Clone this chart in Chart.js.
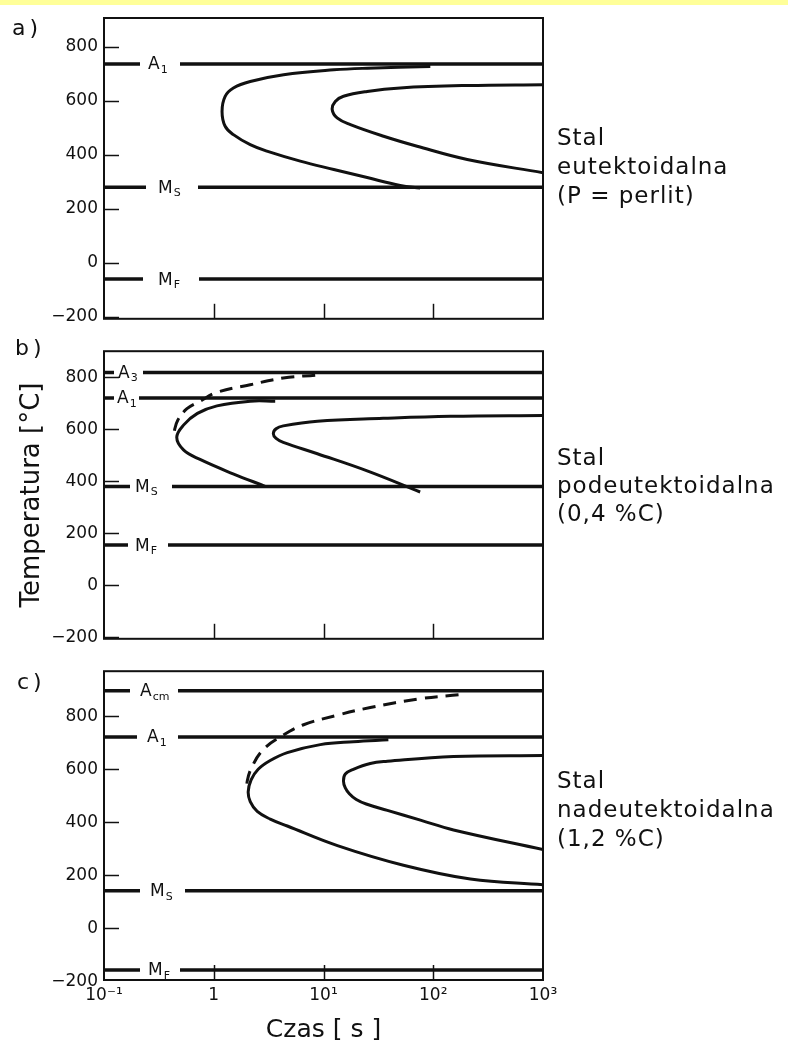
<!DOCTYPE html>
<html>
<head>
<meta charset="utf-8">
<script src="https://cdn.jsdelivr.net/npm/chart.js@4"></script>
<style>
body{margin:0;background:#fff;width:788px;height:1045px;position:relative;overflow:hidden;font-family:"DejaVu Sans",sans-serif;color:#111}
#band{position:absolute;left:0;top:0;width:788px;height:5px;background:#ffff99}
canvas{position:absolute;left:0}
.lbl{position:absolute;font-size:22px;line-height:26px;letter-spacing:4px}
.desc{position:absolute;left:557px;font-size:23px;line-height:29px;letter-spacing:1px}
</style>
</head>
<body>
<div id="band"></div>
<canvas id="chartA" width="788" height="335" style="top:0px"></canvas>
<canvas id="chartB" width="788" height="320" style="top:335px"></canvas>
<canvas id="chartC" width="788" height="390" style="top:655px"></canvas>
<div class="lbl" style="left:12px;top:15px">a)</div>
<div class="lbl" style="left:15px;top:335px">b)</div>
<div class="lbl" style="left:17px;top:669px">c)</div>
<div class="desc" style="top:123px">Stal<br>eutektoidalna<br>(P = perlit)</div>
<div class="desc" style="top:443px;line-height:28px">Stal<br>podeutektoidalna<br>(0,4 %C)</div>
<div class="desc" style="top:766px">Stal<br>nadeutektoidalna<br>(1,2 %C)</div>
<script>
// axis ticks
var xTickValues = [0.1, 1, 10, 100, 1000];
var xTickLabels = ['10\u207B\u00B9', '1', '10\u00B9', '10\u00B2', '10\u00B3'];
var yTickValues = [-200, 0, 200, 400, 600, 800];

// a) stal eutektoidalna
var aLevels = [737, 280, -60];
var aLevelNames = [['A', '1'], ['M', 'S'], ['M', 'F']];
var aOuterTime = [94, 25, 12.4, 4.33, 2.15, 1.51, 1.27, 1.19, 1.27, 1.51, 2.15, 3.05, 6.14, 12.4, 25, 50, 76];
var aOuterTemp = [727, 721, 715, 697, 672, 648, 617, 561, 506, 475, 438, 414, 377, 346, 316, 287, 277];
var aInnerTime = [1000, 204, 50, 25, 15.2, 12.8, 12.0, 13.3, 17.6, 35.3, 71.3, 204, 1000];
var aInnerTemp = [660, 657, 648, 635, 617, 598, 568, 537, 512, 469, 432, 383, 334];

// b) stal podeutektoidalna
var bLevels = [818, 720, 380, 155];
var bLevelNames = [['A', '3'], ['A', '1'], ['M', 'S'], ['M', 'F']];
var bFerriteTime = [8.4, 4.3, 2.15, 1.07, 0.75, 0.57, 0.47, 0.44, 0.44];
var bFerriteTemp = [808, 797, 771, 742, 708, 679, 635, 598, 576];
var bOuterTime = [3.63, 2.15, 1.07, 0.71, 0.53, 0.46, 0.53, 0.75, 1.5, 2.94];
var bOuterTemp = [708, 708, 690, 661, 616, 569, 521, 484, 429, 381];
var bInnerTime = [1000, 144, 35, 8.8, 4.3, 3.7, 3.49, 3.7, 4.3, 8.8, 25, 76];
var bInnerTemp = [653, 650, 642, 631, 613, 602, 583, 565, 550, 506, 440, 359];

// c) stal nadeutektoidalna
var cLevels = [896, 722, 142, -157];
var cLevelNames = [['A', 'cm'], ['A', '1'], ['M', 'S'], ['M', 'F']];
var cCementiteTime = [170, 76, 26.7, 13.4, 6.5, 4.04, 2.82, 2.24, 2.02, 2.02];
var cCementiteTemp = [881, 866, 833, 804, 767, 722, 674, 611, 556, 519];
var cOuterTime = [39, 18.7, 9.35, 4.68, 3.27, 2.54, 2.19, 2.06, 2.15, 2.49, 3.27, 4.68, 13.4, 53.5, 218, 1000];
var cOuterTemp = [711, 704, 693, 663, 633, 600, 560, 515, 478, 441, 412, 386, 312, 238, 186, 164];
var cInnerTime = [1000, 153, 38.2, 26.7, 18.7, 15.8, 15.2, 15.8, 17.2, 19.9, 24.5, 38.2, 76.4, 153, 1000];
var cInnerTemp = [652, 648, 630, 622, 600, 582, 556, 530, 508, 486, 469, 445, 408, 371, 297];

var FONT = '"DejaVu Sans", sans-serif';
var INK = '#111';

function pts(t, T) {
  return t.map(function (v, i) { return {x: v, y: T[i]}; });
}

function curve(t, T, dashed) {
  return {
    data: pts(t, T), borderColor: INK, borderWidth: 3,
    pointRadius: 0, tension: 0.4, fill: false, borderDash: dashed ? [13, 8] : []
  };
}

function level(v) {
  return {
    data: [{x: 0.1, y: v}, {x: 1000, y: v}], borderColor: INK,
    borderWidth: 3.5, pointRadius: 0, tension: 0, fill: false
  };
}

// label gaps in px: [gap start, gap end, text x]
var gapsA = [[140, 180, 148], [146, 198, 158], [143, 199, 158]];
var gapsB = [[114, 143, 118], [114, 139, 117], [130, 172, 135], [128, 168, 135]];
var gapsC = [[130, 178, 140], [137, 178, 147], [140, 185, 150], [140, 180, 148]];

var framePlugin = {
  id: 'frame',
  afterDatasetsDraw: function (chart) {
    var ctx = chart.ctx, a = chart.chartArea;
    var xs = chart.scales.x, ys = chart.scales.y;
    var p = chart.options.plugins.frame;
    ctx.save();
    // level labels
    p.levels.forEach(function (v, i) {
      var g = p.gaps[i], y = ys.getPixelForValue(v);
      ctx.fillStyle = '#fff';
      ctx.fillRect(g[0], y - 4, g[1] - g[0], 8);
      ctx.fillStyle = INK;
      ctx.textBaseline = 'middle';
      ctx.textAlign = 'left';
      ctx.font = '17px ' + FONT;
      ctx.fillText(p.names[i][0], g[2], y + 1);
      var w = ctx.measureText(p.names[i][0]).width;
      ctx.font = '11px ' + FONT;
      ctx.fillText(p.names[i][1], g[2] + w + 1, y + 6);
    });
    ctx.strokeStyle = INK;
    ctx.lineWidth = 1.5;
    // inner ticks
    yTickValues.forEach(function (v) {
      if (v < ys.min || v > ys.max) return;
      var y = Math.round(ys.getPixelForValue(v)) + 0.5;
      ctx.beginPath(); ctx.moveTo(a.left, y); ctx.lineTo(a.left + 15, y); ctx.stroke();
    });
    [1, 10, 100].forEach(function (v) {
      var x = Math.round(xs.getPixelForValue(v)) + 0.5;
      ctx.beginPath(); ctx.moveTo(x, a.bottom); ctx.lineTo(x, a.bottom - 15); ctx.stroke();
    });
    ctx.lineWidth = 2;
    ctx.strokeRect(a.left, a.top, a.right - a.left, a.bottom - a.top);
    ctx.restore();
  }
};

function makeChart(id, cfg) {
  new Chart(document.getElementById(id), {
    type: 'line',
    data: {datasets: cfg.datasets},
    options: {
      responsive: false, animation: false, devicePixelRatio: 1,
      layout: {padding: {left: 0, right: 245, top: cfg.padTop, bottom: 0}},
      plugins: {
        legend: {display: false}, tooltip: {enabled: false},
        frame: {levels: cfg.levels, names: cfg.names, gaps: cfg.gaps}
      },
      scales: {
        x: {
          type: 'logarithmic', min: 0.1, max: 1000,
          grid: {display: false, drawTicks: false}, border: {display: false},
          afterBuildTicks: function (s) { s.ticks = xTickValues.map(function (v) { return {value: v}; }); },
          afterFit: function (s) { s.height = cfg.xHeight; },
          ticks: {
            display: cfg.xLabels, color: INK, padding: 5, maxRotation: 0, autoSkip: false,
            font: {family: FONT, size: 17},
            callback: function (v) { return xTickLabels[xTickValues.indexOf(v)]; }
          },
          title: {
            display: cfg.xLabels, text: 'Czas [ s ]', color: INK,
            font: {family: FONT, size: 25}, padding: {top: 0, bottom: 0}
          }
        },
        y: {
          type: 'linear', min: cfg.yMin, max: cfg.yMax,
          grid: {display: false, drawTicks: false}, border: {display: false},
          afterBuildTicks: function (s) { s.ticks = yTickValues.map(function (v) { return {value: v}; }); },
          afterFit: function (s) { s.width = 104; },
          ticks: {
            color: INK, padding: 6, font: {family: FONT, size: 17},
            callback: function (v) { return v < 0 ? '\u2212' + Math.abs(v) : String(v); }
          },
          title: {
            display: cfg.yTitle, text: 'Temperatura [\u00B0C]', color: INK,
            font: {family: FONT, size: 26}, padding: {top: 17, bottom: 0}
          }
        }
      }
    },
    plugins: [framePlugin]
  });
}

makeChart('chartA', {
  padTop: 18, xHeight: 15, yMin: -207, yMax: 907, xLabels: false, yTitle: false,
  levels: aLevels, names: aLevelNames, gaps: gapsA,
  datasets: aLevels.map(level).concat([
    curve(aOuterTime, aOuterTemp), curve(aInnerTime, aInnerTemp)
  ])
});

makeChart('chartB', {
  padTop: 15, xHeight: 5, yMin: -205, yMax: 900, xLabels: false, yTitle: true,
  levels: bLevels, names: bLevelNames, gaps: gapsB,
  datasets: bLevels.map(level).concat([
    curve(bFerriteTime, bFerriteTemp, true), curve(bOuterTime, bOuterTemp), curve(bInnerTime, bInnerTemp)
  ])
});

makeChart('chartC', {
  padTop: 10, xHeight: 65, yMin: -195, yMax: 970, xLabels: true, yTitle: false,
  levels: cLevels, names: cLevelNames, gaps: gapsC,
  datasets: cLevels.map(level).concat([
    curve(cCementiteTime, cCementiteTemp, true), curve(cOuterTime, cOuterTemp), curve(cInnerTime, cInnerTemp)
  ])
});
</script>
</body>
</html>
